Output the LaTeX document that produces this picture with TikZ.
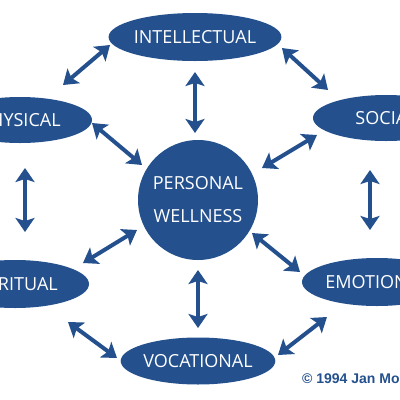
\documentclass[tikz,border=0pt]{standalone}
\usepackage{fontspec}
\setmainfont{Open Sans}
\newfontfamily\copyfont{Liberation Sans}
\usetikzlibrary{arrows.meta,shapes.geometric}
\definecolor{wblue}{RGB}{36,81,142}
\tikzset{
  oval/.style={ellipse, fill=wblue, draw=none, inner sep=0pt, text=white,
    font=\fontsize{18}{33}\selectfont},
  hub/.style={circle, fill=wblue, draw=none, inner sep=0pt, text=white, align=center,
    minimum size=120, font=\fontsize{18}{33}\selectfont},
  arr/.style={draw=wblue, line width=4pt,
    {Stealth[length=14pt,width=19pt,inset=3pt]}-{Stealth[length=14pt,width=19pt,inset=3pt]}},
}
\begin{document}
\begin{tikzpicture}[x=1pt,y=-1pt]
\useasboundingbox (0,0) rectangle (400,400);
\clip (0,0) rectangle (400,400);
\fill[white] (0,0) rectangle (400,400);
\node[oval, minimum width=146, minimum height=48] (intel) at (195,37) {INTELLECTUAL};
\node[oval, minimum width=144, minimum height=46] (phys) at (20,120) {PHYSICAL};
\node[oval, minimum width=146, minimum height=46] (social) at (386,118) {SOCIAL};
\node[hub] (pw) at (198,200) {PERSONAL\\WELLNESS};
\node[oval, minimum width=148, minimum height=48] (spirit) at (15,284) {SPIRITUAL};
\node[oval, minimum width=150, minimum height=48] (emot) at (377,282) {EMOTIONAL};
\node[oval, minimum width=146, minimum height=47] (voc) at (198,361) {VOCATIONAL};
\node[anchor=base west, inner sep=0pt, text=wblue, font=\copyfont\bfseries\fontsize{14}{16}\selectfont] (copy) at (302,383) {© 1994 Jan Mo};
\draw[arr] ([shift={(-85,8)}]intel.center) -- ([shift={(43,-35)}]phys.center);
\draw[arr] ([shift={(87,11)}]intel.center) -- ([shift={(-58,-28)}]social.center);
\draw[arr] ([shift={(0,35)}]intel.center) -- ([shift={(-3,-67)}]pw.center);
\draw[arr] ([shift={(72,3)}]phys.center) -- ([shift={(-56,-35)}]pw.center);
\draw[arr] ([shift={(-69,17)}]social.center) -- ([shift={(64,-32)}]pw.center);
\draw[arr] ([shift={(5,48)}]phys.center) -- ([shift={(10,-52)}]spirit.center);
\draw[arr] ([shift={(-16,52)}]social.center) -- ([shift={(-7,-52)}]emot.center);
\draw[arr] ([shift={(-61,30)}]pw.center) -- ([shift={(68,-21)}]spirit.center);
\draw[arr] ([shift={(54,33)}]pw.center) -- ([shift={(-77,-10)}]emot.center);
\draw[arr] ([shift={(0,70)}]pw.center) -- ([shift={(0,-33)}]voc.center);
\draw[arr] ([shift={(53,38)}]spirit.center) -- ([shift={(-81,-3)}]voc.center);
\draw[arr] ([shift={(-50,35)}]emot.center) -- ([shift={(80,-6)}]voc.center);
\end{tikzpicture}
\end{document}
